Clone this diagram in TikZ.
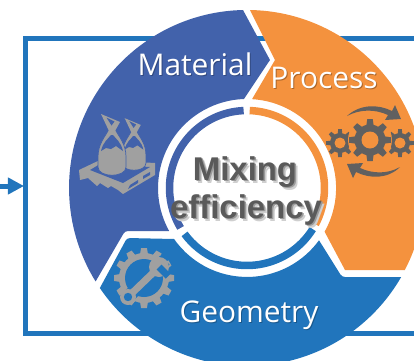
\documentclass[tikz,border=0pt]{standalone}
\usepackage{fontspec}
\setmainfont{Open Sans}
\newfontfamily\boldfont{Liberation Sans}
\usetikzlibrary{arrows.meta}
\definecolor{matblue}{HTML}{4262AB}
\definecolor{procorange}{HTML}{F4923E}
\definecolor{geoblue}{HTML}{2175BC}
\definecolor{icongray}{HTML}{A0A0A0}
\definecolor{geardark}{HTML}{606060}
\definecolor{hubtext}{HTML}{5A5A5A}
\definecolor{hubsoft}{HTML}{CFCFCF}
\definecolor{hubmid}{HTML}{9A9A9A}
\tikzset{
  frameline/.style={draw=geoblue, line width=5bp},
  ringline/.style={line width=7.5bp},
  seclabel/.style={inner sep=0pt, anchor=base, text=white, font=\fontsize{30}{30}\selectfont},
  hublabel/.style={inner sep=0pt, anchor=base, text=hubtext, font=\boldfont\bfseries\fontsize{33}{33}\selectfont},
}
% x, y, body radius, outer radius, teeth, colour
\newcommand{\gearicon}[6]{
  \begin{scope}[shift={(#1,#2)}]
    \fill[#6] (0,0) circle (#3);
    \foreach \k in {1,...,#5} {
      \fill[#6, rotate=\k*360/#5] (#3-1,-1.9*#3/#5) -- (#4,-1.4*#3/#5) -- (#4,1.4*#3/#5) -- (#3-1,1.9*#3/#5) -- cycle;
    }
  \end{scope}
}
% shadow colour, text
\newcommand{\seclabeltext}[2]{\leavevmode\rlap{\kern1bp\raisebox{-1bp}{\color{#1}#2}}#2}
\newcommand{\hublabeltext}[1]{\leavevmode\rlap{\kern3bp\raisebox{-3bp}{\color{hubsoft}#1}}\rlap{\kern1.5bp\raisebox{-1.5bp}{\color{hubmid}#1}}#1}
\begin{document}
\begin{tikzpicture}[x=1bp,y=-1bp]
  \useasboundingbox (0,0) rectangle (414,361);
  \clip (0,0) rectangle (414,361);
  \coordinate (hub) at (247,188);
  \coordinate (inlet) at (0,186);
  \coordinate (framein) at (24,186);

  \draw [frameline] (420,38.5) -- (25.5,38.5) -- (25.5,333.5) -- (420,333.5);
  \draw [draw=geoblue, line width=5bp, -{Triangle[length=16bp,width=16bp]}] (inlet) -- (framein);

  % the three sectors
  \fill [matblue] (243,10) arc [start angle=-91.3, end angle=-211.7, radius=178]
    [rounded corners=3bp] -- (125,231) [sharp corners] -- (169.2,231.1)
    arc [start angle=151, end angle=268, radius=89] -- (270,60) -- cycle;
  \fill [procorange] (250,10) arc [start angle=-89, end angle=27.5, radius=178]
    -- (345,270) -- (324.6,231.7)
    arc [start angle=29.4, end angle=-86.8, radius=89] -- (275,60) -- cycle;
  \fill [geoblue] (401.2,277) arc [start angle=30, end angle=145.8, radius=178]
    [rounded corners=3bp] -- (127,238) [sharp corners] -- (174.1,239)
    arc [start angle=145, end angle=36, radius=89] [rounded corners=3bp] -- (342,277) [sharp corners] -- cycle;

  % ring round the middle
  \draw [ringline, matblue] ([shift={(hub)}]-92.5:77.5) arc [start angle=-92.5, end angle=-211, radius=77.5];
  \draw [ringline, procorange] ([shift={(hub)}]-88:77.5) arc [start angle=-88, end angle=28, radius=77.5];
  \draw [ringline, geoblue] ([shift={(hub)}]143.7:77.5) arc [start angle=143.7, end angle=32, radius=77.5];

  % pallet with bags
  \fill [icongray] (79,170) -- (100,160) -- (155,163) -- (155,175) -- (123,194) -- (118,190) -- (111,186) -- (108,188) -- (100,183) -- (97,186) -- (88,178) -- (80,180) -- cycle;
  \fill [matblue] (90,170) -- (100,164) -- (150,167) -- (123,183) -- cycle;
  \fill [matblue] (128,189) -- (138,183) -- (138,180) -- (130,185) -- cycle;
  \fill [matblue] (143,179) -- (150,175) -- (150,172) -- (143,176) -- cycle;
  \foreach \bx/\by/\bs in {134/170/0.85, 112/175/1} {
    \begin{scope}[shift={(\bx,\by)}, scale=\bs]
      \filldraw [icongray, draw=matblue, line width=0.7bp] (-3,-46) .. controls (-7,-38) and (-14,-31) .. (-14,-18) -- (-14,-8) .. controls (-14,3) and (14,3) .. (14,-8) -- (14,-18) .. controls (14,-31) and (7,-38) .. (3,-46) -- cycle;
      \fill [matblue] (-1,-40) .. controls (-4,-36) and (-9,-33) .. (-11,-24) -- (-6,-27) -- (-1,-26) -- (4,-29) -- (11,-24) .. controls (9,-33) and (4,-36) .. (1,-40) -- cycle;
      \fill [icongray] (-11,-61) -- (8,-53) -- (3,-44) -- (-3,-44) -- cycle;
      \fill [matblue] (-5.5,-57.5) -- (2.5,-53.5) -- (-0.5,-49.5) -- cycle;
    \end{scope}
  }

  % gears and arrows
  \gearicon{340}{143}{10}{14}{8}{geardark}
  \gearicon{400}{143}{10}{14}{8}{geardark}
  \fill [procorange] (340,143) circle (5.5);
  \fill [procorange] (400,143) circle (5.5);
  \fill [procorange] (370,140) circle (22);
  \gearicon{370}{140}{15.5}{21}{8}{geardark}
  \fill [procorange] (370,140) circle (8.5);
  \fill [geardark] (347,116) .. controls (360,104) and (378,104) .. (392,111) -- (395,105) -- (401,119) -- (385,120) -- (388,115) .. controls (375,109) and (360,109) .. (347,116) -- cycle;
  \fill [geardark] (400,167) .. controls (388,179) and (370,179) .. (356,172) -- (353,178) -- (347,164) -- (363,163) -- (360,168) .. controls (373,174) and (388,174) .. (400,167) -- cycle;

  % wrench in a gear
  \gearicon{144}{278}{25}{30}{12}{icongray}
  \fill [geoblue] (144,278) circle (19);
  \draw [geoblue, line width=13bp] (125,300) -- (165,260);
  \fill [icongray] (159,267) circle (10);
  \draw [icongray, line width=7bp] (129,296) -- (156,270);
  \fill [icongray] (128,297) circle (8);
  \fill [geoblue] (128,297) circle (4.2);
  \fill [geoblue, rotate around={-45:(159,267)}] (159,263.5) rectangle (172,270.5);

  % labels
  \node [seclabel] (mat) at (195,75) {\seclabeltext{matblue!75!black}{Material}};
  \node [seclabel] (proc) at (324,88) {\seclabeltext{procorange!70!black}{Process}};
  \node [seclabel] (geo) at (249,322) {\seclabeltext{geoblue!75!black}{Geometry}};
  \node [hublabel] (mix) at (245,180) {\hublabeltext{Mixing}};
  \node [hublabel] (eff) at (246,218) {\hublabeltext{efficiency}};
\end{tikzpicture}
\end{document}
